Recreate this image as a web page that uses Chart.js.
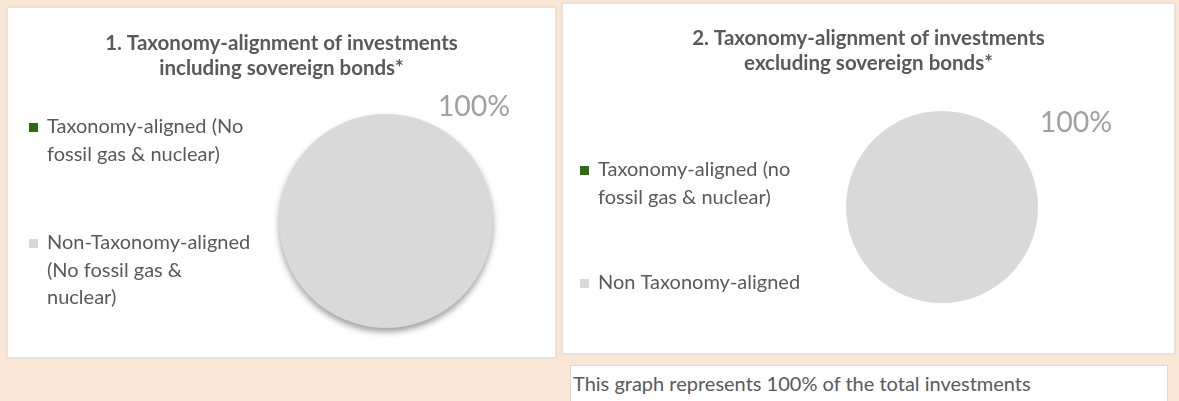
<!DOCTYPE html>
<html>
<head>
<meta charset="utf-8">
<script src="https://cdn.jsdelivr.net/npm/chart.js@4/dist/chart.umd.min.js"></script>
<style>
  html, body { margin: 0; padding: 0; }
  body { width: 1179px; height: 401px; background: #FAE6D5; position: relative; overflow: hidden; font-family: Lato, "Liberation Sans", sans-serif; }
  .panel { position: absolute; background: #fff; box-sizing: border-box; border: 1px solid #E2E4E8; box-shadow: 0 0 2px rgba(0,0,0,0.12); }
  canvas { position: absolute; }
  #note { position: absolute; left: 570px; top: 365px; width: 598px; height: 50px; box-sizing: border-box; background: #fff; border: 1px solid #D9D9D9; color: #595959; font-size: 20px; padding: 5px 0 0 2px; white-space: nowrap; }
</style>
</head>
<body>
<div class="panel" style="left:7px;top:7px;width:549px;height:351px"></div>
<div class="panel" style="left:562px;top:3px;width:613px;height:351px"></div>
<canvas id="c1" width="549" height="351" style="left:7px;top:7px"></canvas>
<canvas id="c2" width="613" height="351" style="left:562px;top:3px"></canvas>
<div id="note">This graph represents 100% of the total investments</div>
<script>
// ---- data ----
const titles1 = ["1. Taxonomy-alignment of investments", "including sovereign bonds*"];
const titles2 = ["2. Taxonomy-alignment of investments", "excluding sovereign bonds*"];
const categories1 = [["Taxonomy-aligned (No", "fossil gas & nuclear)"], ["Non-Taxonomy-aligned", "(No fossil gas &", "nuclear)"]];
const categories2 = [["Taxonomy-aligned (no", "fossil gas & nuclear)"], ["Non Taxonomy-aligned"]];
const values1 = [0, 100];
const values2 = [0, 100];

// ---- styles ----
const sliceColors = ["#2F6B12", "#D9D9D9"];
const textColor = "#595959";

const decor = {
  id: 'decor',
  beforeDatasetDraw(chart, args, o) {
    if (o.shadow) {
      const ctx = chart.ctx;
      ctx.save();
      ctx.shadowColor = 'rgba(0,0,0,0.38)';
      ctx.shadowBlur = 6;
      ctx.shadowOffsetY = 4;
    }
  },
  afterDatasetDraw(chart, args, o) {
    if (o.shadow) chart.ctx.restore();
  },
  afterDraw(chart, args, o) {
    const ctx = chart.ctx;
    ctx.save();
    // titles
    ctx.fillStyle = textColor;
    ctx.font = 'bold ' + o.titleSize + 'px Lato, "Liberation Sans", sans-serif';
    ctx.textAlign = 'center';
    ctx.textBaseline = 'middle';
    o.titles.forEach((t, i) => ctx.fillText(t, chart.width / 2, o.titleY + i * o.titleLH));
    // legend
    ctx.font = o.legendSize + 'px Lato, "Liberation Sans", sans-serif';
    ctx.textAlign = 'left';
    const labels = chart.data.labels;
    const colors = chart.data.datasets[0].backgroundColor;
    labels.forEach((lab, i) => {
      const y0 = o.legendY[i];
      ctx.fillStyle = colors[i];
      ctx.fillRect(o.boxX, y0 - 4, 9, 9);
      ctx.fillStyle = textColor;
      const lines = Array.isArray(lab) ? lab : [lab];
      lines.forEach((ln, j) => ctx.fillText(ln, o.textX, y0 + j * o.legendLH));
    });
    // value labels
    ctx.fillStyle = '#A0A0A0';
    ctx.font = o.valueSize + 'px Lato, "Liberation Sans", sans-serif';
    ctx.textAlign = 'center';
    const meta = chart.getDatasetMeta(0);
    const data = chart.data.datasets[0].data;
    meta.data.forEach((arc, i) => {
      if (data[i] > 0) {
        ctx.fillText(data[i] + '%', arc.x + o.valueDX, arc.y + o.valueDY);
      }
    });
    ctx.restore();
  }
};

function makePie(id, labels, values, pad, decorOpts) {
  return new Chart(document.getElementById(id), {
    type: 'pie',
    data: {
      labels: labels,
      datasets: [{ data: values, backgroundColor: sliceColors, borderWidth: 0, hoverOffset: 0, offset: 0 }]
    },
    options: {
      responsive: false,
      animation: false,
      events: [],
      layout: { padding: pad },
      plugins: { legend: { display: false }, tooltip: { enabled: false }, title: { display: false }, decor: decorOpts }
    },
    plugins: [decor]
  });
}

makePie('c1', categories1, values1, { left: 272, right: 63, top: 107, bottom: 30 }, {
  shadow: true, titles: titles1, titleY: 36, titleLH: 25, titleSize: 20.5,
  legendY: [120, 236], legendLH: 27.5, legendSize: 20, boxX: 22, textX: 40,
  valueSize: 28.5, valueDX: 88, valueDY: -114
});
makePie('c2', categories2, values2, { left: 284, right: 137, top: 108, bottom: 51 }, {
  shadow: false, titles: titles2, titleY: 35, titleLH: 25, titleSize: 20.5,
  legendY: [167, 280], legendLH: 27.5, legendSize: 20, boxX: 18, textX: 36,
  valueSize: 28.5, valueDX: 134, valueDY: -84
});
</script>
</body>
</html>
